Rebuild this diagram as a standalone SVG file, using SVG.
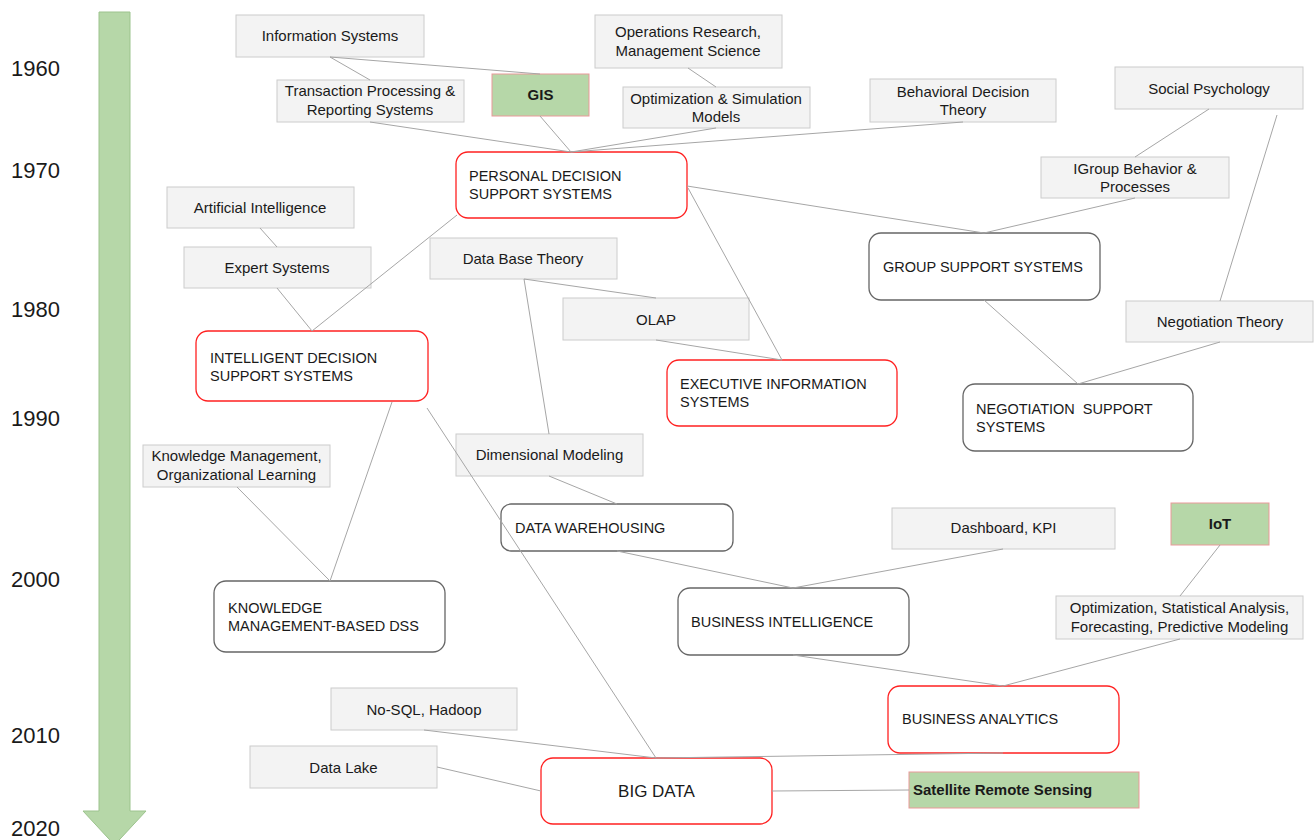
<svg xmlns="http://www.w3.org/2000/svg" width="1315" height="840" viewBox="0 0 1315 840">
<style>
text{font-family:"Liberation Sans",Arial,sans-serif;fill:#1a1a1a}
.yr{font-size:22px}
.g rect{fill:#f3f3f3;stroke:#cccccc;stroke-width:1}
.g text{font-size:15px;text-anchor:middle}
.gr rect{fill:#b6d7a8;stroke:#ea9999;stroke-width:1}
.gr text{font-size:15px;font-weight:bold}
.r rect{fill:#fff;stroke:#ff2020;stroke-width:1.3}
.k rect{fill:#fff;stroke:#666666;stroke-width:1.3}
.r text,.k text{font-size:14.5px;white-space:pre}
#conn line{stroke:#a6a6a6;stroke-width:1}
</style>
<rect width="1315" height="840" fill="#ffffff"/>
<g id="timeline">
<path d="M99,12 H130 V811 H146 L114.5,845 L83,811 H99 Z" fill="#b6d7a8" stroke="#9cc38d" stroke-width="1"/>
<text class="yr" x="11" y="76">1960</text>
<text class="yr" x="11" y="178">1970</text>
<text class="yr" x="11" y="317">1980</text>
<text class="yr" x="11" y="426">1990</text>
<text class="yr" x="11" y="587">2000</text>
<text class="yr" x="11" y="743">2010</text>
<text class="yr" x="11" y="836">2020</text>
</g>
<g id="n-info" class="g"><rect x="236" y="15" width="188" height="42"/><text x="330" y="41">Information Systems</text></g>
<g id="n-tps" class="g"><rect x="277" y="80" width="187" height="42"/><text x="370" y="96">Transaction Processing &amp;</text><text x="370" y="115">Reporting Systems</text></g>
<g id="n-gis" class="gr"><rect x="492" y="74" width="97" height="42"/><text x="540.5" y="100" text-anchor="middle">GIS</text></g>
<g id="n-or" class="g"><rect x="595" y="15" width="187" height="53"/><text x="688" y="37">Operations Research,</text><text x="688" y="56">Management Science</text></g>
<g id="n-opt" class="g"><rect x="623" y="87" width="187" height="41"/><text x="716" y="104">Optimization &amp; Simulation</text><text x="716" y="122">Models</text></g>
<g id="n-bdt" class="g"><rect x="870" y="79" width="186" height="43"/><text x="963" y="97">Behavioral Decision</text><text x="963" y="115">Theory</text></g>
<g id="n-sp" class="g"><rect x="1115" y="67" width="188" height="42"/><text x="1209" y="94">Social Psychology</text></g>
<g id="n-gb" class="g"><rect x="1041" y="157" width="188" height="41"/><text x="1135" y="174">IGroup Behavior &amp;</text><text x="1135" y="192">Processes</text></g>
<g id="n-pdss" class="r"><rect x="456" y="152" width="231" height="66" rx="12"/><text x="469" y="181">PERSONAL DECISION</text><text x="469" y="199">SUPPORT SYSTEMS</text></g>
<g id="n-ai" class="g"><rect x="167" y="187" width="187" height="41"/><text x="260" y="213">Artificial Intelligence</text></g>
<g id="n-es" class="g"><rect x="184" y="247" width="187" height="41"/><text x="277" y="273">Expert Systems</text></g>
<g id="n-dbt" class="g"><rect x="430" y="238" width="187" height="41"/><text x="523" y="264">Data Base Theory</text></g>
<g id="n-gss" class="k"><rect x="869" y="233" width="231" height="67" rx="12"/><text x="883" y="272">GROUP SUPPORT SYSTEMS</text></g>
<g id="n-olap" class="g"><rect x="563" y="298" width="186" height="42"/><text x="656" y="325">OLAP</text></g>
<g id="n-nt" class="g"><rect x="1126" y="301" width="187" height="41"/><text x="1220" y="327">Negotiation Theory</text></g>
<g id="n-idss" class="r"><rect x="196" y="331" width="232" height="70" rx="12"/><text x="210" y="363">INTELLIGENT DECISION</text><text x="210" y="381">SUPPORT SYSTEMS</text></g>
<g id="n-eis" class="r"><rect x="667" y="360" width="230" height="66" rx="12"/><text x="680" y="389">EXECUTIVE INFORMATION</text><text x="680" y="407">SYSTEMS</text></g>
<g id="n-nss" class="k"><rect x="963" y="384" width="230" height="67" rx="12"/><text x="976" y="414">NEGOTIATION  SUPPORT</text><text x="976" y="432">SYSTEMS</text></g>
<g id="n-km" class="g"><rect x="143" y="445" width="187" height="42"/><text x="236.5" y="461">Knowledge Management,</text><text x="236.5" y="480">Organizational Learning</text></g>
<g id="n-dm" class="g"><rect x="456" y="434" width="187" height="42"/><text x="549.5" y="460">Dimensional Modeling</text></g>
<g id="n-dw" class="k"><rect x="501" y="504" width="232" height="47" rx="10"/><text x="515" y="533">DATA WAREHOUSING</text></g>
<g id="n-dash" class="g"><rect x="892" y="508" width="223" height="41"/><text x="1003.5" y="533">Dashboard, KPI</text></g>
<g id="n-iot" class="gr"><rect x="1171" y="503" width="98" height="42"/><text x="1220" y="529" text-anchor="middle">IoT</text></g>
<g id="n-kmdss" class="k"><rect x="214" y="581" width="231" height="71" rx="12"/><text x="228" y="613">KNOWLEDGE</text><text x="228" y="631">MANAGEMENT-BASED DSS</text></g>
<g id="n-bi" class="k"><rect x="678" y="588" width="231" height="67" rx="12"/><text x="691" y="627">BUSINESS INTELLIGENCE</text></g>
<g id="n-osa" class="g"><rect x="1056" y="596" width="247" height="43"/><text x="1179.5" y="613">Optimization, Statistical Analysis,</text><text x="1179.5" y="632">Forecasting, Predictive Modeling</text></g>
<g id="n-nosql" class="g"><rect x="331" y="688" width="186" height="42"/><text x="424" y="715">No-SQL, Hadoop</text></g>
<g id="n-ba" class="r"><rect x="888" y="686" width="231" height="67" rx="12"/><text x="902" y="724">BUSINESS ANALYTICS</text></g>
<g id="n-lake" class="g"><rect x="250" y="746" width="187" height="42"/><text x="343.5" y="773">Data Lake</text></g>
<g id="n-bigdata" class="r"><rect x="541" y="758" width="231" height="66" rx="12"/><text x="656.5" y="797" text-anchor="middle" style="font-size:17px">BIG DATA</text></g>
<g id="n-srs" class="gr"><rect x="909" y="772" width="230" height="36"/><text x="913" y="795">Satellite Remote Sensing</text></g>
<g id="conn">
<line x1="330" y1="57" x2="370" y2="80"/>
<line x1="330" y1="57" x2="540" y2="74"/>
<line x1="370" y1="122" x2="571" y2="152"/>
<line x1="540" y1="116" x2="571" y2="152"/>
<line x1="688" y1="68" x2="716" y2="87"/>
<line x1="716" y1="128" x2="571" y2="152"/>
<line x1="963" y1="122" x2="571" y2="152"/>
<line x1="687" y1="186" x2="984" y2="233"/>
<line x1="1135" y1="198" x2="984" y2="233"/>
<line x1="1209" y1="109" x2="1135" y2="157"/>
<line x1="1277" y1="115" x2="1220" y2="301"/>
<line x1="984" y1="300" x2="1078" y2="384"/>
<line x1="1220" y1="342" x2="1078" y2="384"/>
<line x1="688" y1="188" x2="782" y2="360"/>
<line x1="457" y1="215" x2="312" y2="331"/>
<line x1="277" y1="288" x2="312" y2="331"/>
<line x1="260" y1="228" x2="277" y2="247"/>
<line x1="524" y1="279" x2="656" y2="298"/>
<line x1="656" y1="340" x2="782" y2="360"/>
<line x1="524" y1="279" x2="549" y2="434"/>
<line x1="549" y1="476" x2="617" y2="504"/>
<line x1="392" y1="402" x2="330" y2="581"/>
<line x1="237" y1="487" x2="330" y2="581"/>
<line x1="427" y1="408" x2="656" y2="758"/>
<line x1="617" y1="551" x2="793" y2="588"/>
<line x1="1003" y1="549" x2="793" y2="588"/>
<line x1="1220" y1="545" x2="1180" y2="596"/>
<line x1="793" y1="655" x2="1003" y2="686"/>
<line x1="1180" y1="639" x2="1003" y2="686"/>
<line x1="1003" y1="753" x2="656" y2="758"/>
<line x1="424" y1="730" x2="656" y2="758"/>
<line x1="437" y1="767" x2="541" y2="791"/>
<line x1="772" y1="791" x2="909" y2="790"/>
</g>
</svg>
